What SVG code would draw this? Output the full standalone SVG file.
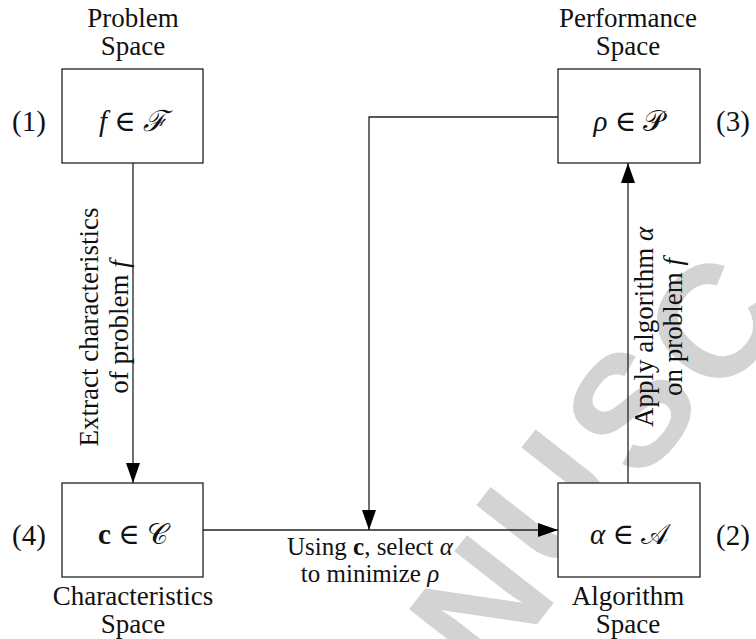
<svg xmlns="http://www.w3.org/2000/svg" width="756" height="639" viewBox="0 0 756 639">
<style>
  .box { fill: #ffffff; stroke: #222222; stroke-width: 1.3; }
  .edge { fill: none; stroke: #222222; stroke-width: 1.3; }
  .lbl { font-size: 27px; fill: #111111; text-anchor: middle; }
  .lbl2 { font-size: 25px; fill: #111111; text-anchor: middle; }
  .num { font-size: 29px; fill: #111111; text-anchor: middle; }
  .math { font-size: 29px; fill: #111111; text-anchor: middle; }
  .it { font-style: italic; }
  .wm { font-weight: bold; font-size: 160px; fill: #d3d3d3; text-anchor: middle; }
</style>
<defs>
  <marker id="arrow" markerUnits="userSpaceOnUse" markerWidth="20" markerHeight="14" refX="20" refY="7" orient="auto">
    <path d="M0,0 L20,7 L0,14 z" fill="#000000"/>
  </marker>
</defs>
<rect width="756" height="639" fill="#ffffff"/>

<g id="watermark" font-family="'Liberation Sans', Arial, sans-serif">
  <text class="wm" transform="translate(480,605) rotate(-52)" y="57">N</text>
  <text class="wm" transform="translate(548,500) rotate(-52)" y="57">U</text>
  <text class="wm" transform="translate(630,408) rotate(-52)" y="57">S</text>
  <text class="wm" transform="translate(712,322) rotate(-52)" y="57">C</text>
</g>

<g font-family="'Liberation Serif', 'DejaVu Serif', 'Times New Roman', serif">
<g id="connectors">
  <line class="edge" x1="133" y1="163" x2="133" y2="483" marker-end="url(#arrow)"/>
  <line class="edge" x1="628" y1="483" x2="628" y2="163" marker-end="url(#arrow)"/>
  <line class="edge" x1="203" y1="530" x2="558" y2="530" marker-end="url(#arrow)"/>
  <path class="edge" d="M558,117 L369,117 L369,530" marker-end="url(#arrow)"/>
  <text class="lbl" transform="translate(98,327) rotate(-90)">Extract characteristics</text>
  <text class="lbl" transform="translate(128,327) rotate(-90)">of problem <tspan class="it">f</tspan></text>
  <text class="lbl" transform="translate(653,327) rotate(-90)">Apply algorithm <tspan class="it">α</tspan></text>
  <text class="lbl" transform="translate(682,327) rotate(-90)">on problem <tspan class="it">f</tspan></text>
  <text class="lbl2" x="370" y="555">Using <tspan font-weight="bold">c</tspan>, select <tspan class="it">α</tspan></text>
  <text class="lbl2" x="370" y="582">to minimize <tspan class="it">ρ</tspan></text>
</g>

<g id="node-problem">
  <text class="lbl" x="133" y="27">Problem</text>
  <text class="lbl" x="133" y="55">Space</text>
  <rect class="box" x="62" y="69" width="141" height="94"/>
  <text class="math" x="133" y="131"><tspan class="it">f</tspan> ∈ <tspan font-style="italic">ℱ</tspan></text>
  <text class="num" x="29" y="131">(1)</text>
</g>

<g id="node-performance">
  <text class="lbl" x="628" y="27">Performance</text>
  <text class="lbl" x="628" y="55">Space</text>
  <rect class="box" x="558" y="69" width="142" height="94"/>
  <text class="math" x="629" y="131"><tspan class="it">ρ</tspan> ∈ 𝒫</text>
  <text class="num" x="733" y="131">(3)</text>
</g>

<g id="node-characteristics">
  <rect class="box" x="62" y="483" width="141" height="94"/>
  <text class="math" x="133" y="544"><tspan font-weight="bold">c</tspan> ∈ 𝒞</text>
  <text class="num" x="29" y="545">(4)</text>
  <text class="lbl" x="133" y="605">Characteristics</text>
  <text class="lbl" x="133" y="633">Space</text>
</g>

<g id="node-algorithm">
  <rect class="box" x="558" y="483" width="142" height="94"/>
  <text class="math" x="629" y="544"><tspan class="it">α</tspan> ∈ 𝒜</text>
  <text class="num" x="733" y="545">(2)</text>
  <text class="lbl" x="628" y="605">Algorithm</text>
  <text class="lbl" x="628" y="633">Space</text>
</g>
</g>
</svg>
